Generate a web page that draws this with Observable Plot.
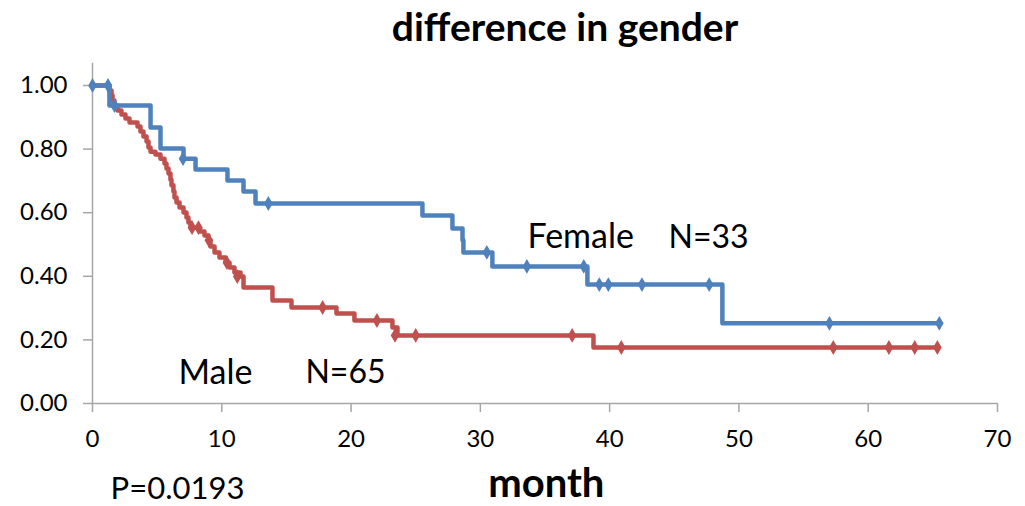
<!DOCTYPE html>
<html>
<head>
<meta charset="utf-8">
<script src="https://cdn.jsdelivr.net/npm/d3@7"></script>
<script src="https://cdn.jsdelivr.net/npm/@observablehq/plot@0.6"></script>
<style>
  html, body { margin: 0; padding: 0; background: #fff; }
  #chart svg { display: block; }
</style>
</head>
<body>
<div id="chart"></div>
<script>
// Female (N=33) Kaplan-Meier step points: month, survival
const femaleMonths = [0, 1.31, 4.49, 5.26, 7.04, 7.97, 10.44, 11.68, 12.61, 25.52, 27.84, 28.62, 28.69, 30.93, 38.28, 48.72, 65.5];
const femaleSurv   = [1.000, 0.937, 0.868, 0.802, 0.770, 0.736, 0.701, 0.667, 0.629, 0.591, 0.550, 0.513, 0.475, 0.431, 0.374, 0.252, 0.252];
// Female censored marks
const femaleCensMonths = [0, 1.2, 1.7, 7.0, 13.6, 30.5, 33.6, 38.0, 39.2, 39.9, 42.5, 47.7, 57.0, 65.5];
const femaleCensSurv   = [1.000, 1.000, 0.937, 0.770, 0.629, 0.475, 0.431, 0.431, 0.374, 0.374, 0.374, 0.374, 0.252, 0.252];

// Male (N=65) Kaplan-Meier step points
const maleMonths = [0, 1.31, 1.47, 1.55, 1.70, 1.93, 2.24, 2.55, 2.86, 3.48, 3.71, 3.94, 4.18, 4.33, 4.49, 4.87, 5.26, 5.57, 5.72, 5.88, 6.03, 6.11, 6.26, 6.34, 6.50, 6.73, 7.04, 7.27, 7.42, 7.58, 8.28, 8.66, 8.97, 9.13, 9.44, 9.82, 10.29, 10.60, 10.98, 11.45, 11.68, 13.92, 15.39, 18.87, 20.26, 23.20, 23.59, 38.75, 65.35];
const maleSurv   = [1.000, 0.984, 0.969, 0.953, 0.937, 0.921, 0.909, 0.896, 0.884, 0.871, 0.855, 0.840, 0.824, 0.805, 0.792, 0.783, 0.770, 0.755, 0.739, 0.723, 0.704, 0.686, 0.667, 0.648, 0.632, 0.616, 0.601, 0.585, 0.569, 0.553, 0.541, 0.528, 0.513, 0.494, 0.475, 0.459, 0.443, 0.428, 0.412, 0.399, 0.365, 0.324, 0.302, 0.283, 0.261, 0.239, 0.214, 0.176, 0.176];
// Male censored marks
const maleCensMonths = [7.7, 8.2, 9.0, 10.4, 11.2, 17.8, 22.0, 23.4, 25.0, 37.1, 40.9, 57.3, 61.6, 63.6, 65.35];
const maleCensSurv   = [0.553, 0.553, 0.513, 0.443, 0.399, 0.302, 0.261, 0.214, 0.214, 0.214, 0.176, 0.176, 0.176, 0.176, 0.176];

const xTicks = [0, 10, 20, 30, 40, 50, 60, 70];
const yTicks = [0, 0.2, 0.4, 0.6, 0.8, 1.0];

const title = "difference in gender";
const xLabel = "month";
const pValue = "P=0.0193";

const BLUE = "#4f81bd";
const RED = "#c0504d";
const AXIS = "#a6a6a6";
const FONT = "Lato, 'Open Sans', sans-serif";

const female = femaleMonths.map((m, i) => ({month: m, surv: femaleSurv[i]}));
const male = maleMonths.map((m, i) => ({month: m, surv: maleSurv[i]}));
const femaleCens = femaleCensMonths.map((m, i) => ({month: m, surv: femaleCensSurv[i]}));
const maleCens = maleCensMonths.map((m, i) => ({month: m, surv: maleCensSurv[i]}));

const chart = Plot.plot({
  width: 1025,
  height: 506,
  marginLeft: 92,
  marginRight: 28,
  marginTop: 85,
  marginBottom: 103,
  style: {fontFamily: FONT, background: "#fff", color: "#000"},
  x: {domain: [0, 70], label: null},
  y: {domain: [0, 1], label: null},
  marks: [
    Plot.ruleX([0], {y1: 0, y2: 1.07, stroke: AXIS, strokeWidth: 1.5, clip: false}),
    Plot.ruleY([0], {stroke: AXIS, strokeWidth: 1.5}),
    Plot.axisY(yTicks, {tickSize: 9, tickPadding: 16, stroke: AXIS, strokeWidth: 1.5, fill: "#000", fontSize: 24, tickFormat: d3.format(".2f"), label: null}),
    Plot.axisX(xTicks, {tickSize: 9, tickPadding: 17, stroke: AXIS, strokeWidth: 1.5, fill: "#000", fontSize: 24, label: null}),
    Plot.line(male, {x: "month", y: "surv", curve: "step-after", stroke: RED, strokeWidth: 4.5}),
    Plot.line(female, {x: "month", y: "surv", curve: "step-after", stroke: BLUE, strokeWidth: 4.5}),
    Plot.dot(maleCens, {x: "month", y: "surv", symbol: "diamond", r: 4.5, fill: RED, stroke: "none"}),
    Plot.dot(femaleCens, {x: "month", y: "surv", symbol: "diamond", r: 4.5, fill: BLUE, stroke: "none"}),
    Plot.text([title], {frameAnchor: "top", lineAnchor: "middle", dx: 20, dy: -57, fontSize: 39, fontWeight: "bold", fill: "#000"}),
    Plot.text(["Female"], {x: 33.64, y: 0.522, textAnchor: "start", lineAnchor: "middle", fontSize: 34, fill: "#000"}),
    Plot.text(["N=33"], {x: 44.55, y: 0.522, textAnchor: "start", lineAnchor: "middle", fontSize: 32, fill: "#000"}),
    Plot.text(["Male"], {x: 6.65, y: 0.097, textAnchor: "start", lineAnchor: "middle", fontSize: 34, fill: "#000"}),
    Plot.text(["N=65"], {x: 16.47, y: 0.097, textAnchor: "start", lineAnchor: "middle", fontSize: 32, fill: "#000"}),
    Plot.text([xLabel], {x: 35.1, frameAnchor: "bottom", lineAnchor: "middle", dy: 81, fontSize: 40, fontWeight: "bold", fill: "#000"}),
    Plot.text([pValue], {x: 1.4, frameAnchor: "bottom", lineAnchor: "middle", dy: 86, textAnchor: "start", fontSize: 31, fill: "#000"})
  ]
});
document.getElementById("chart").appendChild(chart);
</script>
</body>
</html>
